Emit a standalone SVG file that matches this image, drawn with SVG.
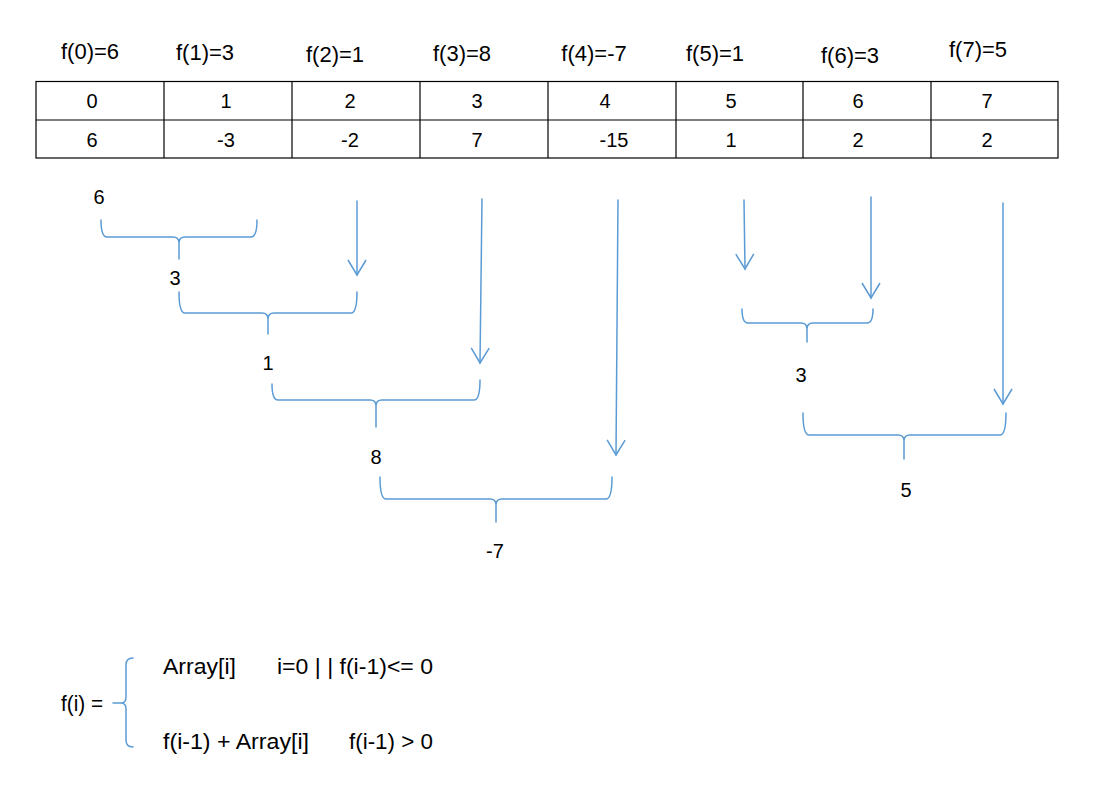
<svg xmlns="http://www.w3.org/2000/svg" width="1113" height="786" viewBox="0 0 1113 786">
<style>
text{font-family:"Liberation Sans",Arial,sans-serif;fill:#000;}
.lbl{font-size:22px;text-anchor:middle;}
.cell{font-size:20px;text-anchor:middle;}
.val{font-size:20px;text-anchor:middle;}
.fx{font-size:22px;}
.grid{fill:none;stroke:#000;stroke-width:1.2;}
.blue{fill:none;stroke:#5B9BD5;stroke-width:1.5;stroke-linecap:round;stroke-linejoin:round;}
</style>
<defs>
<marker id="ah" markerWidth="20" markerHeight="20" refX="16" refY="10" orient="auto" markerUnits="userSpaceOnUse" viewBox="0 0 20 20">
<path d="M1,1 L16,10 L1,19" fill="none" stroke="#5B9BD5" stroke-width="1.5"/>
</marker>
</defs>
<rect width="1113" height="786" fill="#fff"/>

<g id="labels">
<text class="lbl" x="90" y="59">f(0)=6</text>
<text class="lbl" x="205" y="60">f(1)=3</text>
<text class="lbl" x="335" y="62">f(2)=1</text>
<text class="lbl" x="462" y="61">f(3)=8</text>
<text class="lbl" x="594" y="61">f(4)=-7</text>
<text class="lbl" x="715" y="61">f(5)=1</text>
<text class="lbl" x="850" y="63">f(6)=3</text>
<text class="lbl" x="978" y="57">f(7)=5</text>
</g>

<g id="table">
<rect class="grid" x="36" y="81.5" width="1022" height="76.5"/>
<line class="grid" x1="36" y1="120" x2="1058" y2="120"/>
<line class="grid" x1="164" y1="81.5" x2="164" y2="158"/>
<line class="grid" x1="292" y1="81.5" x2="292" y2="158"/>
<line class="grid" x1="420" y1="81.5" x2="420" y2="158"/>
<line class="grid" x1="548" y1="81.5" x2="548" y2="158"/>
<line class="grid" x1="676" y1="81.5" x2="676" y2="158"/>
<line class="grid" x1="803" y1="81.5" x2="803" y2="158"/>
<line class="grid" x1="931" y1="81.5" x2="931" y2="158"/>
<text class="cell" x="92" y="108">0</text>
<text class="cell" x="226" y="108">1</text>
<text class="cell" x="350" y="108">2</text>
<text class="cell" x="477" y="108">3</text>
<text class="cell" x="605" y="108">4</text>
<text class="cell" x="731" y="108">5</text>
<text class="cell" x="858" y="108">6</text>
<text class="cell" x="987" y="108">7</text>
<text class="cell" x="92" y="147">6</text>
<text class="cell" x="226" y="147">-3</text>
<text class="cell" x="350" y="147">-2</text>
<text class="cell" x="477" y="147">7</text>
<text class="cell" x="614" y="147">-15</text>
<text class="cell" x="731" y="147">1</text>
<text class="cell" x="858" y="147">2</text>
<text class="cell" x="987" y="147">2</text>
</g>

<g id="values">
<text class="val" x="99" y="204">6</text>
<text class="val" x="175" y="285">3</text>
<text class="val" x="268" y="370">1</text>
<text class="val" x="376" y="464">8</text>
<text class="val" x="495" y="558">-7</text>
<text class="val" x="801" y="382">3</text>
<text class="val" x="906" y="497">5</text>
</g>

<g id="connectors">
<path class="blue" d="M101,220 Q101,237 107,237 L173,237 Q179,237 179,243 L179,259 M179,243 Q179,237 185,237 L251,237 Q257,237 257,220"/>
<path class="blue" d="M179,292 Q179,313 185,313 L262,313 Q268,313 268,319 L268,334 M268,319 Q268,313 274,313 L351,313 Q357,313 357,292"/>
<path class="blue" d="M272,384 Q272,400 278,400 L370,400 Q376,400 376,406 L376,427 M376,406 Q376,400 382,400 L474,400 Q480,400 480,380"/>
<path class="blue" d="M380,477 Q380,499 386,499 L490,499 Q496,499 496,505 L496,522 M496,505 Q496,499 502,499 L606,499 Q612,499 612,477"/>
<path class="blue" d="M742,309 Q742,323 748,323 L801,323 Q807,323 807,329 L807,342 M807,329 Q807,323 813,323 L867,323 Q873,323 873,309"/>
<path class="blue" d="M803,413 Q803,435 809,435 L898,435 Q904,435 904,441 L904,459 M904,441 Q904,435 910,435 L1000,435 Q1006,435 1006,413"/>
<line class="blue" x1="357" y1="201" x2="357" y2="275" marker-end="url(#ah)"/>
<line class="blue" x1="482" y1="199" x2="480" y2="363" marker-end="url(#ah)"/>
<line class="blue" x1="618" y1="200" x2="616" y2="455" marker-end="url(#ah)"/>
<line class="blue" x1="744" y1="200" x2="745" y2="269" marker-end="url(#ah)"/>
<line class="blue" x1="871" y1="197" x2="871" y2="298" marker-end="url(#ah)"/>
<line class="blue" x1="1003" y1="203" x2="1003" y2="404" marker-end="url(#ah)"/>
<path class="blue" d="M113,703 L121,703 Q126,703 126,697 L126,665 Q126,658 133,658 M126,709 Q126,703 121,703 M126,709 L126,740 Q126,747 133,747"/>
</g>

<g id="formula">
<text class="fx" x="61" y="711" textLength="42" lengthAdjust="spacingAndGlyphs">f(i) =</text>
<text class="fx" x="163" y="674" textLength="73" lengthAdjust="spacingAndGlyphs">Array[i]</text>
<text class="fx" x="277" y="674" textLength="156" lengthAdjust="spacingAndGlyphs">i=0 | | f(i-1)&lt;= 0</text>
<text class="fx" x="163" y="749" textLength="146" lengthAdjust="spacingAndGlyphs">f(i-1) + Array[i]</text>
<text class="fx" x="349" y="749" textLength="84" lengthAdjust="spacingAndGlyphs">f(i-1) &gt; 0</text>
</g>
</svg>
